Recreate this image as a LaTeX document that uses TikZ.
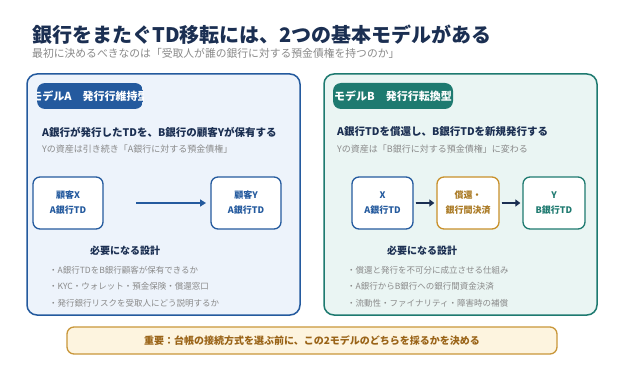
\documentclass[tikz,border=0pt]{standalone}
\usepackage{fontspec}
\setmainfont{Noto Sans CJK JP}
\usetikzlibrary{arrows.meta}
\definecolor{navy}{HTML}{1B2F52}
\definecolor{ablue}{HTML}{245A9E}
\definecolor{afill}{HTML}{EDF3FB}
\definecolor{bteal}{HTML}{1E7A70}
\definecolor{bfill}{HTML}{EAF5F3}
\definecolor{orng}{HTML}{C8902A}
\definecolor{gtext}{HTML}{8A8A8A}
\definecolor{notefill}{HTML}{FDF4DF}
\definecolor{noteline}{HTML}{C9973A}
\definecolor{notetext}{HTML}{9A6418}
\tikzset{
  panel/.style={rounded corners=10pt, line width=1.5pt},
  tagbox/.style={rounded corners=8pt},
  tagtext/.style={text=white, font=\fontsize{11}{13}\selectfont\bfseries, inner sep=0pt},
  heading/.style={anchor=west, text=navy, font=\fontsize{10.5}{12}\selectfont\bfseries, inner sep=0pt},
  subtext/.style={anchor=west, text=gtext, font=\fontsize{9}{11}\selectfont, inner sep=0pt},
  flowbox/.style={draw, fill=white, rounded corners=7pt, line width=1.3pt, minimum width=#1, minimum height=52pt, align=center, font=\fontsize{9}{15}\selectfont\bfseries, inner sep=0pt},
  flowbox/.default=70pt,
  design/.style={text=navy, font=\fontsize{10}{12}\selectfont\bfseries, inner sep=0pt},
  bullet/.style={anchor=west, text=gtext, font=\fontsize{8.5}{10}\selectfont, inner sep=0pt},
  flowarrow/.style={-{Triangle[length=6pt,width=7pt]}, line width=2.2pt},
}
\begin{document}
\begin{tikzpicture}[x=1pt,y=-1pt]
\useasboundingbox (0,0) rectangle (624,366);
\fill[white] (0,0) rectangle (624,366);

% title
\node[anchor=west, text=navy, font=\fontsize{20}{24}\selectfont\bfseries, inner sep=0pt] (title) at (32,35) {銀行をまたぐTD移転には、2つの基本モデルがある};
\node[anchor=west, text=gtext, font=\fontsize{10.8}{13}\selectfont, inner sep=0pt] (subtitle) at (32,53.5) {最初に決めるべきなのは「受取人が誰の銀行に対する預金債権を持つのか」};

% panel A
\draw[panel, draw=ablue, fill=afill] (27,74) rectangle (300,315);
\begin{scope}
  \path[clip, tagbox] (37,83) rectangle (143,109);
  \fill[ablue] (37,83) rectangle (143,109);
  \node[tagtext] (tagA) at (90,96) {モデルA　発行行維持型};
\end{scope}
\node[heading] (headA) at (42,132) {A銀行が発行したTDを、B銀行の顧客Yが保有する};
\node[subtext] (subA) at (42,149) {Yの資産は引き続き「A銀行に対する預金債権」};
\node[flowbox, draw=ablue, text=ablue] (ax) at (68,203) {顧客X\\A銀行TD};
\node[flowbox, draw=ablue, text=ablue] (ay) at (246,203) {顧客Y\\A銀行TD};
\coordinate (aas) at (136,203);
\coordinate (aae) at (206,203);
\draw[flowarrow, draw=ablue, fill=ablue] (aas) -- (aae);
\node[design] (desA) at (125,251) {必要になる設計};
\node[bullet] (a1) at (49,270) {・A銀行TDをB銀行顧客が保有できるか};
\node[bullet] (a2) at (49,286) {・KYC・ウォレット・預金保険・償還窓口};
\node[bullet] (a3) at (49,303) {・発行銀行リスクを受取人にどう説明するか};

% panel B
\draw[panel, draw=bteal, fill=bfill] (324,74) rectangle (597,315);
\fill[bteal, tagbox] (333,83) rectangle (453,109);
\node[tagtext] (tagB) at (393,96) {モデルB　発行行転換型};
\node[heading] (headB) at (337,132) {A銀行TDを償還し、B銀行TDを新規発行する};
\node[subtext] (subB) at (337,149) {Yの資産は「B銀行に対する預金債権」に変わる};
\node[flowbox=61pt, draw=ablue, text=ablue] (bx) at (382.5,203) {X\\A銀行TD};
\node[flowbox=62pt, draw=orng, text=orng!85!black] (bm) at (468,203) {償還・\\銀行間決済};
\node[flowbox=62pt, draw=bteal, text=bteal] (by) at (554,203) {Y\\B銀行TD};
\draw[flowarrow, draw=navy, fill=navy, -{Triangle[length=5pt,width=7pt]}] ([xshift=2pt]bx.east) -- ([xshift=-2pt]bm.west);
\draw[flowarrow, draw=navy, fill=navy, -{Triangle[length=5pt,width=7pt]}] ([xshift=2pt]bm.east) -- ([xshift=-2pt]by.west);
\node[design] (desB) at (422,251) {必要になる設計};
\node[bullet] (b1) at (347,270) {・償還と発行を不可分に成立させる仕組み};
\node[bullet] (b2) at (347,286) {・A銀行からB銀行への銀行間資金決済};
\node[bullet] (b3) at (347,303) {・流動性・ファイナリティ・障害時の補償};

% bottom note
\node[draw=noteline, fill=notefill, line width=1.3pt, rounded corners=7pt, minimum width=490pt, minimum height=27pt, text=notetext, font=\fontsize{10}{12}\selectfont\bfseries, inner sep=0pt] (note) at (312,340.5) {重要：台帳の接続方式を選ぶ前に、この2モデルのどちらを採るかを決める};
\end{tikzpicture}
\end{document}
